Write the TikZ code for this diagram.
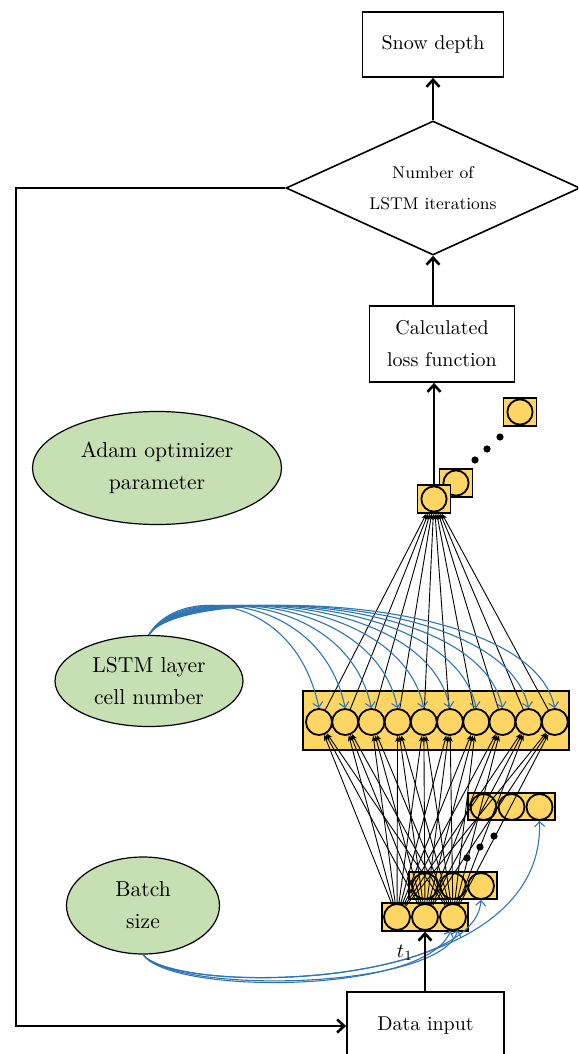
\documentclass[tikz,border=0pt]{standalone}
\usepackage{tikz}
\usetikzlibrary{arrows.meta,calc,positioning,shapes.geometric}
\definecolor{cellyellow}{RGB}{255,214,100}
\definecolor{ovalgreen}{RGB}{198,224,180}
\definecolor{linkblue}{RGB}{46,117,182}

\begin{document}
\begin{tikzpicture}[x=0.5pt, y=-0.5pt,
  every node/.style={font=\fontsize{10}{16}\selectfont},
  flowbox/.style={draw, line width=0.9pt, align=center, inner sep=0pt},
  greenoval/.style={ellipse, draw, line width=0.6pt, fill=ovalgreen, align=center, inner sep=0pt, font=\fontsize{10.8}{16}\selectfont},
  cellrow/.style={draw, line width=0.7pt, fill=cellyellow, inner sep=0pt},
  unitcell/.style={circle, draw, line width=0.9pt, fill=cellyellow, minimum size=13pt, inner sep=0pt},
  outcell/.style={cellrow, minimum width=16.5pt, minimum height=14pt,
    path picture={\draw[line width=0.9pt] (path picture bounding box.center) circle (6.3pt);}},
  mainarrow/.style={line width=1.3pt, -{Straight Barb[length=3.5pt,width=6.5pt]}},
  netarrow/.style={line width=0.45pt, -{Stealth[length=3pt,width=2.4pt]}},
  bluearrow/.style={linkblue, line width=0.55pt, -{Straight Barb[length=2.5pt,width=5pt]}},
]
\path[use as bounding box, clip] (0,0) rectangle (578,1054);

% flow chart boxes
\node[flowbox, minimum width=70.5pt, minimum height=32.5pt] (snow) at (433,44.5) {Snow depth};
\node[diamond, draw, line width=0.8pt, aspect=2.2, minimum width=147pt, minimum height=67pt,
  inner sep=0pt, align=center, font=\fontsize{8.5}{15.5}\selectfont] (iter) at (433,188) {Number of\\LSTM iterations};
\node[flowbox, minimum width=72.5pt, minimum height=38pt] (loss) at (442,344) {Calculated\\loss function};
\node[flowbox, minimum width=78.5pt, minimum height=34pt] (data) at (425.5,1026) {Data input};

% hyper-parameters
\node[greenoval, minimum width=124.5pt, minimum height=56.5pt] (adam) at (157,468) {Adam optimizer\\parameter};
\node[greenoval, minimum width=94pt, minimum height=45.5pt] (cellnum) at (149,681) {LSTM layer\\cell number};
\node[greenoval, minimum width=76.5pt, minimum height=48.5pt] (batch) at (143,905.5) {Batch\\size};

% output cells
\node[outcell] (o3) at (520,412) {};
\node[outcell] (o2) at (456,483) {};
\node[outcell] (o1) at (434,499) {};
\foreach \p in {(475,460),(487,449),(500,437)}
  \fill \p circle (1.8pt);

% LSTM layer
\node[cellrow, minimum width=133pt, minimum height=29.5pt] (layer) at (436,720.5) {};
\foreach \i in {1,...,10}
  \node[unitcell] (l\i) at ({319+26.2*(\i-1)},722) {};

% input sequence
\node[cellrow, minimum width=43.5pt, minimum height=13.5pt] (r3) at (511.5,806.5) {};
\foreach \i/\x in {1/483.5,2/511.5,3/539.5}
  \node[unitcell] (c\i) at (\x,807) {};
\node[cellrow, minimum width=44pt, minimum height=13.5pt] (r2) at (453,885.5) {};
\foreach \i/\x in {1/425,2/453,3/481}
  \node[unitcell] (b\i) at (\x,886) {};
\node[cellrow, minimum width=43pt, minimum height=14pt] (r1) at (425,917) {};
\foreach \i/\x in {1/397,2/425,3/453}
  \node[unitcell] (a\i) at (\x,917) {};
\foreach \p in {(467,858),(480,847),(494,836)}
  \fill \p circle (1.8pt);

% full connections
\foreach \i in {1,2,3}
  \foreach \j in {1,...,10}
    \draw[netarrow] (a\i) -- (l\j);
\foreach \j in {1,...,10}
  \draw[netarrow] (l\j) -- (o1);

% cell number and batch size links
\foreach \j in {1,...,10}
  \draw[bluearrow] (cellnum.north) .. controls (176,586) and ($(l\j.north)+(-25,-118)$) .. (l\j.north);
\draw[bluearrow] (batch.south) .. controls (170,995) and (425,995) .. (a3.-100);
\draw[bluearrow] (batch.south) .. controls (175,995) and (440,990) .. (a3.-70);
\draw[bluearrow] (batch.south) .. controls (175,995) and (475,985) .. (b3.south);
\draw[bluearrow] (batch.south) .. controls (175,995) and (545,1000) .. (c3.south);

% main flow
\draw[mainarrow] (iter.north) -- (snow.south);
\draw[mainarrow] (loss.north -| iter.south) -- (iter.south);
\draw[mainarrow] (o1.north) -- (o1.north |- loss.south);
\draw[mainarrow] (data.north -| r1.south) -- (r1.south) node[pos=0.65, left=2pt] {$t_1$};
\coordinate (corner) at (16,188);
\draw[mainarrow] (iter.west) -- (corner) |- (data.west);
\end{tikzpicture}
\end{document}
